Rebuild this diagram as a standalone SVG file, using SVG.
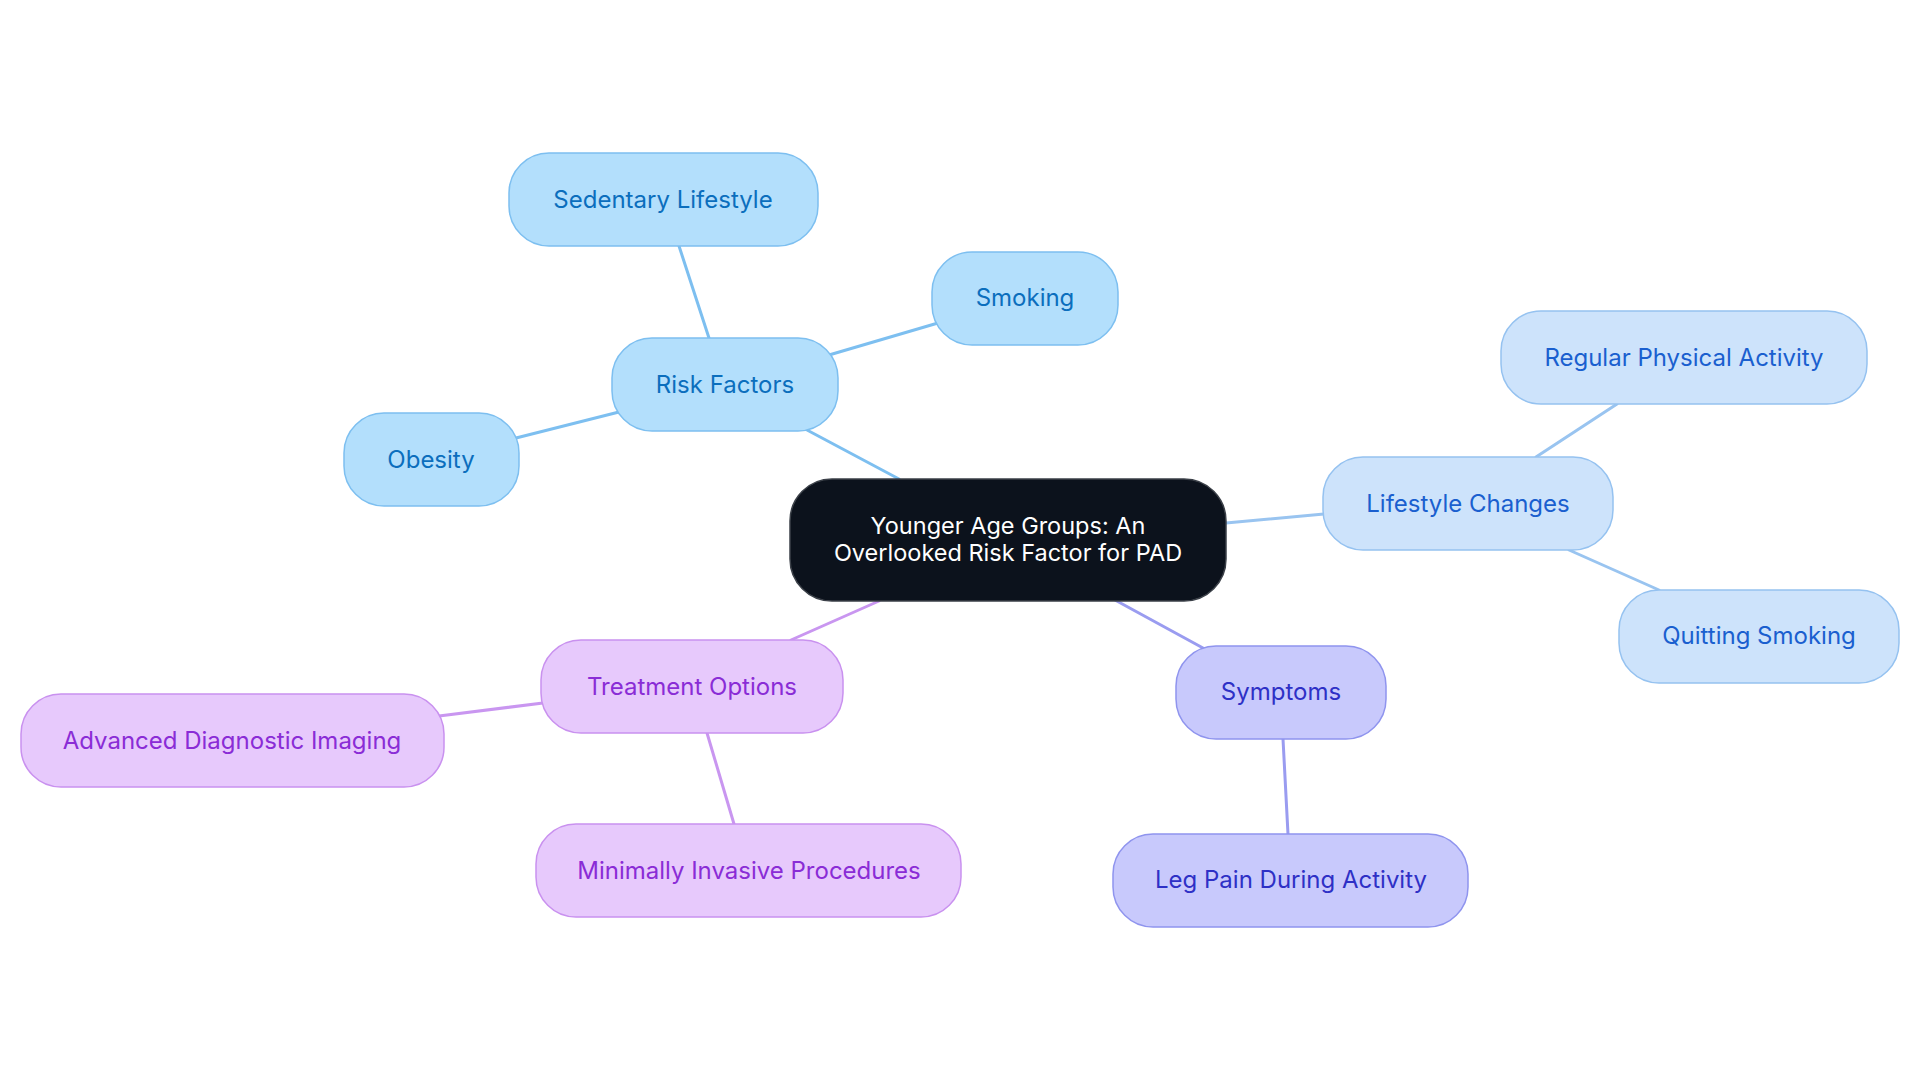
<svg xmlns="http://www.w3.org/2000/svg" width="1920" height="1083" viewBox="0 0 1920 1083">
<style>
  .lbl { font-family: Inter, "Liberation Sans", sans-serif; font-size: 24px; text-anchor: middle; }
  .ctr { font-size: 23.5px; }
  .edge { fill: none; stroke-width: 3; stroke-linecap: round; }
  .blue rect { fill: #b3dffc; stroke: #7dbff0; stroke-width: 1.5; }
  .blue text { fill: #0b6ebd; }
  .lb rect { fill: #cde3fb; stroke: #95c2f0; stroke-width: 1.5; }
  .lb text { fill: #1a5fcf; }
  .vio rect { fill: #c8c9fc; stroke: #8f94ee; stroke-width: 1.5; }
  .vio text { fill: #2e30c6; }
  .pur rect { fill: #e7c9fc; stroke: #c991ef; stroke-width: 1.5; }
  .pur text { fill: #8a2cd6; }
</style>
<rect x="0" y="0" width="1920" height="1083" fill="#ffffff"/>
<g id="connectors">
  <line class="edge" stroke="#7dbff0" x1="899" y1="479" x2="807" y2="430"/>
  <line class="edge" stroke="#7dbff0" x1="709" y1="338" x2="679" y2="246"/>
  <line class="edge" stroke="#7dbff0" x1="829" y1="355" x2="938" y2="323"/>
  <line class="edge" stroke="#7dbff0" x1="619" y1="412" x2="516" y2="438"/>
  <line class="edge" stroke="#99c4f0" x1="1226" y1="523" x2="1324" y2="514"/>
  <line class="edge" stroke="#99c4f0" x1="1536" y1="457" x2="1617" y2="404"/>
  <line class="edge" stroke="#99c4f0" x1="1569" y1="550" x2="1659" y2="590"/>
  <line class="edge" stroke="#9a9cf0" x1="1115" y1="600" x2="1203" y2="648"/>
  <line class="edge" stroke="#9a9cf0" x1="1283" y1="739" x2="1288" y2="834"/>
  <line class="edge" stroke="#c996f0" x1="879" y1="601" x2="791" y2="640"/>
  <line class="edge" stroke="#c996f0" x1="543" y1="703" x2="439" y2="716"/>
  <line class="edge" stroke="#c996f0" x1="707" y1="733" x2="734" y2="824"/>
</g>
<g id="center">
  <rect x="790" y="479" width="436" height="122" rx="42" fill="#0c121c" stroke="#3b4048" stroke-width="1.5"/>
  <text class="lbl ctr" fill="#ffffff" x="1008" y="534">Younger Age Groups: An</text>
  <text class="lbl ctr" fill="#ffffff" x="1008" y="561">Overlooked Risk Factor for PAD</text>
</g>
<g id="risk-factors" class="blue">
  <rect x="612" y="338" width="226" height="93" rx="40"/>
  <text class="lbl" x="725" y="393">Risk Factors</text>
</g>
<g id="sedentary-lifestyle" class="blue">
  <rect x="509" y="153" width="309" height="93" rx="40"/>
  <text class="lbl" x="663" y="208">Sedentary Lifestyle</text>
</g>
<g id="smoking" class="blue">
  <rect x="932" y="252" width="186" height="93" rx="40"/>
  <text class="lbl" x="1025" y="306">Smoking</text>
</g>
<g id="obesity" class="blue">
  <rect x="344" y="413" width="175" height="93" rx="40"/>
  <text class="lbl" x="431" y="468">Obesity</text>
</g>
<g id="lifestyle-changes" class="lb">
  <rect x="1323" y="457" width="290" height="93" rx="40"/>
  <text class="lbl" x="1468" y="512">Lifestyle Changes</text>
</g>
<g id="regular-physical-activity" class="lb">
  <rect x="1501" y="311" width="366" height="93" rx="40"/>
  <text class="lbl" x="1684" y="366">Regular Physical Activity</text>
</g>
<g id="quitting-smoking" class="lb">
  <rect x="1619" y="590" width="280" height="93" rx="40"/>
  <text class="lbl" x="1759" y="644">Quitting Smoking</text>
</g>
<g id="symptoms" class="vio">
  <rect x="1176" y="646" width="210" height="93" rx="40"/>
  <text class="lbl" x="1281" y="700">Symptoms</text>
</g>
<g id="leg-pain" class="vio">
  <rect x="1113" y="834" width="355" height="93" rx="40"/>
  <text class="lbl" x="1291" y="888">Leg Pain During Activity</text>
</g>
<g id="treatment-options" class="pur">
  <rect x="541" y="640" width="302" height="93" rx="40"/>
  <text class="lbl" x="692" y="695">Treatment Options</text>
</g>
<g id="advanced-diagnostic-imaging" class="pur">
  <rect x="21" y="694" width="423" height="93" rx="40"/>
  <text class="lbl" x="232" y="749">Advanced Diagnostic Imaging</text>
</g>
<g id="minimally-invasive-procedures" class="pur">
  <rect x="536" y="824" width="425" height="93" rx="40"/>
  <text class="lbl" x="749" y="879">Minimally Invasive Procedures</text>
</g>
</svg>
